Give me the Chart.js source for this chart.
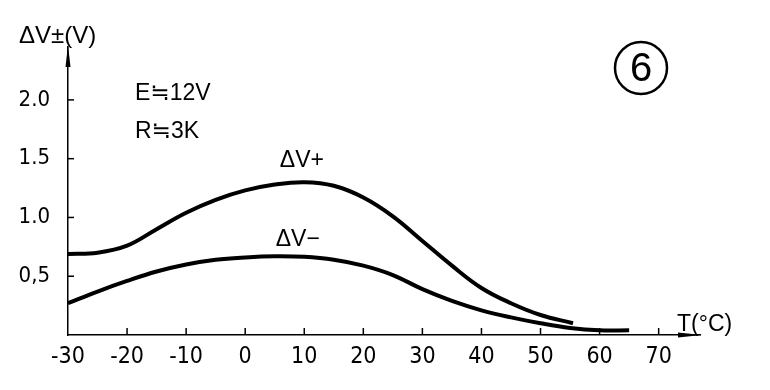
<!DOCTYPE html>
<html>
<head>
<meta charset="utf-8">
<script src="https://cdn.jsdelivr.net/npm/chart.js@4/dist/chart.umd.min.js"></script>
<style>
  html, body { margin: 0; padding: 0; background: #fff; }
  #wrap { width: 770px; height: 390px; }
</style>
</head>
<body>
<div id="wrap"><canvas id="c" width="770" height="390"></canvas></div>
<script>
// ---- data ----
const xTicks = [-30, -20, -10, 0, 10, 20, 30, 40, 50, 60, 70];
const yTicks = [0.5, 1.0, 1.5, 2.0];
const yTickLabels = ['0,5', '1.0', '1.5', '2.0'];

const tempPlus = [-30, -25, -20, -15, -10, -5, 0, 5, 10, 15, 20, 25, 30, 35, 40, 45, 50, 55.5];
const dvPlus   = [0.69, 0.70, 0.76, 0.90, 1.04, 1.15, 1.23, 1.28, 1.30, 1.27, 1.17, 1.01, 0.80, 0.59, 0.40, 0.27, 0.17, 0.10];

const tempMinus = [-30, -25, -20, -15, -10, -5, 0, 5, 10, 15, 20, 25, 30, 35, 40, 45, 50, 55, 60, 65];
const dvMinus   = [0.27, 0.37, 0.46, 0.54, 0.60, 0.64, 0.66, 0.67, 0.665, 0.64, 0.59, 0.51, 0.39, 0.29, 0.21, 0.15, 0.10, 0.06, 0.04, 0.04];

const seriesNames = ['ΔV+', 'ΔV−'];
const yAxisTitle = 'ΔV±(V)';
const xAxisTitle = 'T(°C)';
const noteLines = ['E≒12V', 'R≒3K'];
const figNumber = '6';

const tickFont = "'Liberation Sans Narrow', 'DejaVu Sans Condensed', 'Liberation Sans', sans-serif";
const textFont = "'Liberation Sans', 'DejaVu Sans', sans-serif";

const toPts = (xs, ys) => xs.map((x, i) => ({ x: x, y: ys[i] }));

const decor = {
  id: 'decor',
  afterDraw(chart) {
    const ctx = chart.ctx;
    const xs = chart.scales.x, ys = chart.scales.y;
    const a = chart.chartArea;
    ctx.save();
    ctx.strokeStyle = '#000';
    ctx.fillStyle = '#000';
    // inner tick marks
    ctx.lineWidth = 1.5;
    xs.ticks.forEach(t => {
      if (t.value === xs.min) return;
      const px = xs.getPixelForValue(t.value);
      ctx.beginPath(); ctx.moveTo(px, a.bottom); ctx.lineTo(px, a.bottom - 7); ctx.stroke();
    });
    ys.ticks.forEach(t => {
      const py = ys.getPixelForValue(t.value);
      ctx.beginPath(); ctx.moveTo(a.left, py); ctx.lineTo(a.left + 6, py); ctx.stroke();
    });
    // arrow heads
    ctx.beginPath();
    ctx.moveTo(a.left, a.top - 2);
    ctx.lineTo(a.left - 2.5, a.top + 20);
    ctx.lineTo(a.left + 2.5, a.top + 20);
    ctx.closePath(); ctx.fill();
    ctx.beginPath();
    ctx.moveTo(a.right + 2, a.bottom);
    ctx.lineTo(a.right - 22, a.bottom - 2.5);
    ctx.lineTo(a.right - 22, a.bottom + 2.5);
    ctx.closePath(); ctx.fill();

    // texts
    ctx.textBaseline = 'middle';
    ctx.textAlign = 'left';
    ctx.font = '24px ' + textFont;
    ctx.fillText(yAxisTitle, 19, 36);
    ctx.font = '23px ' + textFont;
    ctx.fillText(noteLines[0], 135, 94);
    ctx.fillText(noteLines[1], 135, 132);
    ctx.font = '23px ' + textFont;
    ctx.fillText(xAxisTitle, 677, 325);

    ctx.textAlign = 'center';
    ctx.font = '23px ' + textFont;
    ctx.fillText(seriesNames[0], xs.getPixelForValue(9.6), ys.getPixelForValue(1.48));
    ctx.fillText(seriesNames[1], xs.getPixelForValue(8.9), ys.getPixelForValue(0.81));

    // circled figure number
    ctx.lineWidth = 2.5;
    ctx.beginPath(); ctx.arc(641, 68, 26, 0, Math.PI * 2); ctx.stroke();
    ctx.font = '40px ' + textFont;
    ctx.fillText(figNumber, 641, 70);
    ctx.restore();
  }
};

new Chart(document.getElementById('c'), {
  type: 'line',
  data: {
    datasets: [
      { label: seriesNames[0], data: toPts(tempPlus, dvPlus), borderColor: '#000', borderWidth: 4,
        pointRadius: 0, tension: 0.4, fill: false },
      { label: seriesNames[1], data: toPts(tempMinus, dvMinus), borderColor: '#000', borderWidth: 4,
        pointRadius: 0, tension: 0.4, fill: false }
    ]
  },
  options: {
    responsive: false,
    animation: false,
    layout: { padding: { top: 47, right: 70, left: 0, bottom: 0 } },
    plugins: { legend: { display: false }, tooltip: { enabled: false } },
    scales: {
      x: {
        type: 'linear', min: -30, max: 77,
        afterBuildTicks: s => { s.ticks = xTicks.map(v => ({ value: v })); },
        afterFit: s => { s.height = 55; },
        grid: { display: false, drawTicks: false },
        border: { display: true, color: '#000', width: 1.5 },
        ticks: { color: '#000', padding: 8, maxRotation: 0, autoSkip: false,
                 font: { size: 23, family: tickFont } }
      },
      y: {
        type: 'linear', min: 0, max: 2.45,
        afterBuildTicks: s => { s.ticks = yTicks.map(v => ({ value: v })); },
        afterFit: s => { s.width = 68; },
        grid: { display: false, drawTicks: false },
        border: { display: true, color: '#000', width: 1.5 },
        ticks: { color: '#000', padding: 18, autoSkip: false,
                 font: { size: 22, family: tickFont },
                 callback: (v) => { const i = yTicks.indexOf(v); return i >= 0 ? yTickLabels[i] : ''; } }
      }
    }
  },
  plugins: [decor]
});
</script>
</body>
</html>
